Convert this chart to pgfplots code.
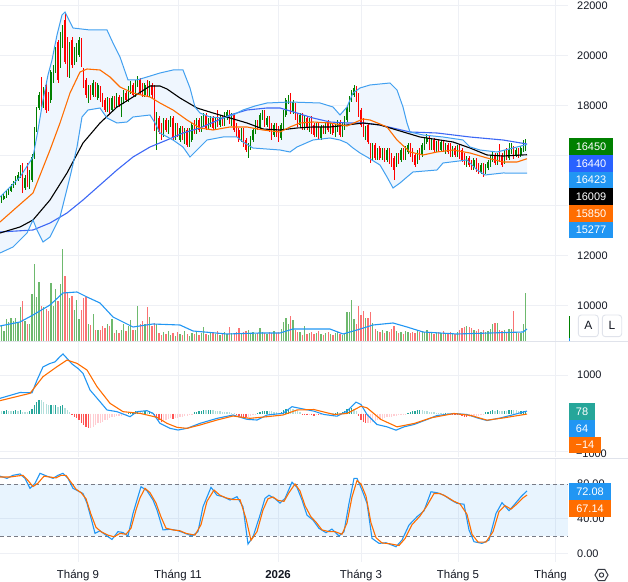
\documentclass[border=0pt]{standalone}
\usepackage{pgfplots}
\pgfplotsset{compat=1.18}
\usepackage{pgfplotstable}
\usepackage{fontspec}
\setmainfont{Liberation Sans}

\definecolor{cgreen}{RGB}{0,128,0}
\definecolor{cred}{RGB}{255,0,0}
\definecolor{vgreen}{RGB}{110,185,110}
\definecolor{vred}{RGB}{250,115,115}
\definecolor{bbline}{RGB}{66,160,240}
\definecolor{bbfill}{RGB}{239,246,254}
\definecolor{maorange}{RGB}{255,109,0}
\definecolor{mablue}{RGB}{61,104,245}
\definecolor{tvblue}{RGB}{33,150,243}
\definecolor{boxblue}{RGB}{41,98,255}
\definecolor{teal1}{RGB}{38,166,154}
\definecolor{teal2}{RGB}{178,223,219}
\definecolor{red1}{RGB}{255,82,82}
\definecolor{red2}{RGB}{255,205,210}
\definecolor{gridc}{RGB}{238,240,245}
\definecolor{sepc}{RGB}{224,227,235}
\definecolor{dashc}{RGB}{120,123,134}
\definecolor{txt}{RGB}{19,23,34}

% i open high low close volume macdhist histcolour
\pgfplotstableread{
i o h l c v m k
0 14120 14360 14080 14280 15 60 2
1 14240 14440 14200 14360 10 70 1
2 14320 14560 14280 14480 22 80 1
3 14440 14680 14400 14600 19 70 2
4 14560 14840 14520 14760 23 60 2
5 14720 14960 14680 14880 20 75 1
6 14840 15160 14800 15080 23 90 1
7 15000 15320 14960 15200 19 70 2
8 15120 15600 15080 15520 34 90 1
9 15600 15680 14480 14600 40 50 2
10 14680 15200 14600 15080 20 40 2
11 15480 15680 14720 14800 17 30 2
12 14760 15400 14640 15320 17 60 1
13 15000 16040 14920 15920 47 130 1
14 15920 17120 15840 17000 77 220 1
15 17000 17920 16920 17800 44 300 1
16 17880 18520 17800 18400 59 350 1
17 19000 19120 17920 18000 35 340 2
18 18000 18720 17880 18600 34 300 2
19 18800 18880 17680 17800 32 260 2
20 18400 18520 17760 17880 30 220 2
21 18200 19400 18080 19320 58 230 1
22 19000 19600 18880 19480 35 220 2
23 19400 20320 19280 20200 52 230 1
24 20520 20600 18880 19000 40 170 2
25 19600 20920 19480 20800 57 200 1
26 20400 21200 20280 21080 92 220 1
27 21400 21680 19640 19720 65 150 2
28 20200 20720 19120 19200 48 90 2
29 19200 20520 19080 20400 43 40 2
30 20600 20720 19480 19600 45 -45 3
31 19720 20320 19600 20200 31 -90 3
32 19800 20480 19720 20400 41 -130 3
33 20000 20720 19920 20600 22 -175 3
34 20600 20680 19520 19600 31 -245 3
35 19400 19480 18680 18800 43 -305 3
36 19000 19080 18280 18400 44 -365 3
37 18200 18800 18080 18680 17 -390 3
38 18680 18800 18200 18320 16 -370 4
39 18400 19000 18320 18880 27 -340 4
40 18800 18920 18320 18400 11 -310 4
41 18280 18880 18200 18800 11 -260 4
42 18680 18760 18120 18200 11 -240 4
43 18400 18480 17920 18000 15 -215 4
44 18200 18280 17720 17800 13 -175 4
45 17800 18320 17720 18200 17 -160 4
46 18200 18280 17640 17720 15 -130 4
47 17800 18360 17720 18280 22 -100 4
48 18280 18360 17880 17960 8 -90 4
49 18000 18480 17920 18400 11 -70 4
50 18320 18400 17920 18000 8 -65 4
51 17640 18320 17520 18200 11 -55 4
52 18120 18600 18040 18520 17 -45 4
53 18480 18560 18120 18200 10 -40 4
54 18200 18760 18120 18680 15 20 1
55 18520 18960 18440 18880 21 40 1
56 18800 18880 18320 18400 11 50 1
57 18400 19000 18320 18920 11 60 1
58 18800 19160 18720 19080 35 70 1
59 19000 19080 18440 18520 17 65 2
60 18800 18880 18320 18400 20 55 2
61 18400 18880 18320 18800 17 60 1
62 18920 19000 18320 18400 34 50 2
63 18400 18960 18320 18880 24 55 1
64 18800 18880 18280 18400 15 40 2
65 18680 18800 16960 17080 18 -45 3
66 16400 17720 16200 17600 17 -105 3
67 17480 17560 16840 16920 8 -175 3
68 17200 17280 16600 16680 6 -215 3
69 16800 17480 16720 17400 9 -190 4
70 17400 17480 16920 17000 7 -170 4
71 16920 17400 16840 17320 10 -150 4
72 17200 17560 17120 17480 6 -130 4
73 17480 17560 16600 16680 8 -135 3
74 16680 17280 16600 17200 5 -120 4
75 17200 17280 16720 16800 9 -110 4
76 16600 17160 16520 17080 7 -95 4
77 17080 17160 16600 16680 6 -85 4
78 16520 17080 16440 17000 10 -70 4
79 17000 17080 16320 16400 7 -60 4
80 16400 17080 16320 17000 5 -40 4
81 16600 17280 16520 17200 8 -20 4
82 17320 17400 16840 16920 7 30 1
83 16920 17480 16840 17400 9 50 1
84 17400 17480 16920 17000 6 60 1
85 17000 17560 16920 17480 8 75 1
86 17200 17680 17120 17600 14 85 1
87 17600 17680 17000 17080 7 80 2
88 17080 17480 17000 17400 6 85 1
89 17200 17560 17120 17480 8 90 1
90 17480 17560 17000 17080 9 80 2
91 17080 17480 17000 17400 7 75 2
92 17720 17800 17120 17200 10 70 2
93 17200 17600 17120 17520 6 60 2
94 17520 17600 17160 17240 8 50 2
95 17240 17720 17160 17640 9 45 2
96 17480 17800 17400 17720 7 40 2
97 17720 17800 17240 17320 14 30 2
98 17240 17680 17160 17600 8 20 2
99 17600 17680 16920 17000 7 10 2
100 17200 17280 16720 16800 9 -45 3
101 17000 17080 16520 16600 13 -70 3
102 16600 17080 16520 17000 8 -85 3
103 17000 17080 16320 16400 9 -90 3
104 16600 16680 16120 16200 10 -95 3
105 16000 16480 15880 16400 11 -80 4
106 16280 16760 16200 16680 8 -60 4
107 16600 17080 16520 17000 9 -40 4
108 16920 17400 16840 17320 7 -20 4
109 17320 17400 17000 17080 8 20 1
110 17080 17680 17000 17600 13 40 1
111 17480 17800 17400 17720 9 55 1
112 17720 17800 17120 17200 8 65 1
113 17200 17560 17120 17480 7 70 1
114 17480 17560 16920 17000 9 65 2
115 17200 17280 16600 16680 8 55 2
116 16800 17280 16720 17200 10 45 2
117 17200 17280 16720 16800 8 35 2
118 17080 17160 16520 16600 9 20 2
119 16680 17280 16600 17200 12 40 1
120 17080 17800 17000 17720 19 80 1
121 17600 18280 17520 18200 23 110 1
122 18120 18400 18040 18360 17 130 1
123 18360 18480 17640 17720 25 120 2
124 17720 18200 17640 18120 21 115 2
125 18000 18080 17400 17480 11 90 2
126 17600 17680 17120 17200 9 60 2
127 17200 17680 17120 17600 9 40 2
128 17600 17680 17000 17080 6 -30 3
129 17080 17560 17000 17480 15 -40 3
130 17480 17560 17000 17080 7 -45 3
131 17000 17480 16920 17400 8 -40 4
132 17480 17560 16840 16920 9 -50 3
133 17200 17280 16720 16800 7 -55 3
134 16800 17280 16720 17200 8 -45 4
135 17200 17280 16600 16680 10 -50 3
136 16680 17200 16600 17120 7 -40 4
137 17120 17200 16840 16920 6 -35 4
138 16920 17320 16840 17240 8 -20 4
139 17320 17400 16920 17000 9 -15 4
140 16920 17280 16840 17200 7 10 1
141 17200 17280 16800 16880 6 5 2
142 16800 17240 16720 17160 8 15 1
143 17000 17400 16920 17320 9 30 1
144 17320 17400 16720 16800 7 25 2
145 16800 17280 16720 17200 6 40 1
146 17080 17560 17000 17480 8 70 1
147 17400 17960 17320 17880 29 110 1
148 17800 18360 17720 18280 29 130 1
149 18200 18600 18120 18520 41 140 1
150 18400 18800 18320 18680 22 110 2
151 18680 18760 18120 18200 17 70 2
152 18400 18480 17520 17600 35 -60 3
153 17800 17880 17120 17200 26 -175 3
154 17400 17480 16720 16800 30 -230 3
155 16680 17160 16600 17080 23 -260 3
156 17200 17280 16440 16520 23 -250 4
157 16400 16480 15680 15800 29 -240 4
158 15880 16480 15800 16400 18 -220 4
159 16400 16480 15800 15880 12 -200 4
160 15880 16280 15800 16200 10 -180 4
161 16280 16360 15800 15880 9 -160 4
162 15880 16280 15800 16200 11 -140 4
163 16200 16280 15720 15800 8 -120 4
164 15800 16280 15720 16200 10 -100 4
165 16200 16280 15640 15720 9 -90 4
166 16000 16080 15520 15600 12 -80 4
167 15880 15960 15000 15400 15 -70 4
168 15600 16080 15520 16000 10 -60 4
169 16000 16080 15640 15720 8 -50 4
170 15800 16280 15720 16200 9 -40 4
171 16200 16280 15800 15880 7 -30 4
172 15880 16360 15800 16280 10 -20 4
173 16120 16480 16040 16400 9 20 1
174 16400 16480 15920 16000 8 40 1
175 16200 16280 15720 15800 9 60 1
176 16000 16080 15520 15600 8 70 1
177 15720 16200 15640 16120 10 80 1
178 16200 16280 15800 15880 9 85 1
179 16000 16480 15920 16400 10 80 2
180 16280 16680 16200 16600 9 75 2
181 16520 16840 16440 16680 11 60 2
182 16680 16760 16200 16280 8 50 2
183 16280 16680 16200 16600 9 40 2
184 16600 16680 16120 16200 7 30 2
185 16200 16560 16120 16480 8 25 2
186 16520 16600 16120 16200 9 20 2
187 16200 16600 16120 16520 8 15 2
188 16520 16600 16120 16200 10 10 2
189 16120 16480 16040 16400 8 10 1
190 16400 16480 16040 16120 7 5 2
191 16400 16480 15920 16000 9 -10 3
192 16000 16360 15920 16280 8 -15 3
193 16280 16360 15920 16000 7 -25 3
194 16000 16400 15920 16320 9 -30 3
195 16320 16400 15840 15920 11 -45 3
196 16200 16280 15720 15800 13 -70 3
197 16000 16080 15600 15680 14 -90 3
198 15600 15960 15520 15880 15 -100 3
199 15880 15960 15520 15600 14 -95 4
200 15720 15800 15400 15480 13 -90 4
201 15480 15880 15400 15800 11 -80 4
202 15800 15880 15320 15400 10 -70 4
203 15600 15680 15240 15320 12 -60 4
204 15320 15680 15240 15600 9 -50 4
205 15600 15680 15120 15200 11 -40 4
206 15320 15640 15240 15560 9 30 1
207 15480 15800 15400 15720 10 50 1
208 15600 16000 15520 15920 12 70 1
209 15800 16160 15720 16080 17 80 1
210 16000 16080 15600 15680 18 75 2
211 15680 16080 15600 16000 18 80 1
212 16200 16440 15720 15800 11 75 2
213 16000 16080 15520 15600 10 70 2
214 15720 16200 15640 16120 11 75 1
215 16200 16280 15800 15880 9 70 2
216 15880 16480 15800 16200 12 80 1
217 16120 16480 16040 16400 12 95 1
218 16280 16360 15840 15920 30 85 2
219 16000 16280 15920 16200 9 80 2
220 16200 16280 15880 15960 8 70 2
221 16000 16360 15920 16280 8 72 1
222 16200 16600 16120 16400 17 75 1
223 16240 16640 16160 16450 48 78 1
}\candles

% Bollinger upper band
\pgfplotstableread{
x y
0 14320
20 15120
33 15920
38 17000
43 18200
48 19200
52 19800
57 20800
62 21600
65 21720
73 21080
90 21000
107 21000
113 20480
120 19920
128 19000
137 19000
147 19120
160 19280
173 19400
183 19400
190 18680
195 17920
200 17680
210 17520
223 17480
233 17600
243 17800
255 17960
267 18080
290 18120
320 18080
333 17920
340 17600
347 17920
353 18480
360 18680
370 18800
390 18880
397 18600
403 17920
407 17280
410 16920
423 16800
443 16720
463 16600
470 16320
480 16200
497 16120
513 16280
527 16423
}\tabU

% Bollinger basis
\pgfplotstableread{
x y
0 13320
17 13920
33 14480
50 16200
60 17280
70 18480
80 19320
87 19440
100 19400
110 19120
120 18720
133 18480
150 18320
160 18080
173 17800
187 17400
200 17080
213 17000
230 17120
247 17120
263 17000
280 16920
290 17120
300 17280
313 17320
330 17280
347 17160
363 17440
370 17400
380 17240
387 17120
397 16600
410 16120
423 16000
437 16120
453 16200
470 16080
487 15880
503 15720
517 15720
527 15850
}\tabM

% Bollinger lower band
\pgfplotstableread{
x y
0 12080
13 12320
27 12880
33 13400
37 13000
43 12520
50 12720
60 13520
70 15120
77 16320
82 17520
88 17800
100 17880
107 17480
117 17280
127 17320
133 17520
150 17600
155 17280
160 16880
173 16600
183 16320
190 15920
197 16200
207 16600
223 16720
237 16720
243 16520
253 16280
280 16200
290 16120
297 16320
313 16600
330 16680
340 16600
347 16480
353 16280
360 16080
367 15920
380 15600
387 15120
393 14680
400 14880
407 15120
413 15320
437 15400
443 15680
467 15800
477 15400
485 15200
503 15280
527 15277
}\tabL

% band outline: upper band forward, lower band backward
\pgfplotstableread{
x y
0 14320
20 15120
33 15920
38 17000
43 18200
48 19200
52 19800
57 20800
62 21600
65 21720
73 21080
90 21000
107 21000
113 20480
120 19920
128 19000
137 19000
147 19120
160 19280
173 19400
183 19400
190 18680
195 17920
200 17680
210 17520
223 17480
233 17600
243 17800
255 17960
267 18080
290 18120
320 18080
333 17920
340 17600
347 17920
353 18480
360 18680
370 18800
390 18880
397 18600
403 17920
407 17280
410 16920
423 16800
443 16720
463 16600
470 16320
480 16200
497 16120
513 16280
527 16423
527 15277
503 15280
485 15200
477 15400
467 15800
443 15680
437 15400
413 15320
407 15120
400 14880
393 14680
387 15120
380 15600
367 15920
360 16080
353 16280
347 16480
340 16600
330 16680
313 16600
297 16320
290 16120
280 16200
253 16280
243 16520
237 16720
223 16720
207 16600
197 16200
190 15920
183 16320
173 16600
160 16880
155 17280
150 17600
133 17520
127 17320
117 17280
107 17480
100 17880
88 17800
82 17520
77 16320
70 15120
60 13520
50 12720
43 12520
37 13000
33 13400
27 12880
13 12320
0 12080
}\tabBand

\pgfplotstableread{
x y
0 12920
33 13000
50 13280
67 13680
83 14200
100 14800
117 15400
133 15920
150 16320
167 16600
183 16880
200 17080
230 17600
247 17800
267 17880
280 17880
297 17680
313 17480
330 17320
347 17280
363 17280
380 17200
410 16920
437 16880
470 16720
503 16600
527 16440
}\tabMAb

\pgfplotstableread{
x y
0 12880
20 13120
33 13400
50 14200
67 15280
83 16480
100 17280
117 17920
133 18320
150 18760
160 18760
167 18640
180 18280
197 17880
213 17680
230 17480
247 17280
263 17040
280 17000
297 17080
313 17120
330 17120
347 17200
363 17280
380 17200
420 16720
453 16520
470 16280
487 16000
503 15960
527 16009
}\tabMAk

\pgfplotstableread{
x y
0 15
20 19
33 26
50 36
63 48
77 49
87 44
100 38
113 24
133 14
153 17
180 16
193 10
227 7
260 8
280 8
293 12
330 12
343 7
357 11
373 16
393 18
407 14
423 9
457 7
490 8
523 9
527 12
}\tabVMA

\pgfplotstableread{
x y
0 396
20 548
32 540
37 870
43 1217
50 1305
55 1348
60 1483
63 1553
67 1440
72 1292
78 1175
83 1048
90 614
100 309
107 92
117 48
130 -83
137 48
147 74
153 4
160 -257
170 -387
178 -431
187 -387
200 -257
217 -127
233 -39
247 -152
257 -170
267 -39
283 4
292 178
300 135
314 61
324 -26
337 -70
347 61
356 296
361 235
367 -26
377 -287
387 -348
396 -435
404 -348
414 -287
427 -157
437 -52
454 0
467 -26
477 -113
487 -183
501 -113
514 -26
527 64
}\tabMACD

\pgfplotstableread{
x y
0 335
30 526
43 961
57 1222
67 1396
77 1309
87 1135
97 700
110 266
123 48
140 4
157 -100
167 -257
177 -361
187 -387
200 -300
217 -170
233 -65
250 -126
267 -83
283 -39
297 92
314 104
334 -26
347 0
361 191
367 148
381 -157
397 -348
414 -261
431 -113
454 0
471 -52
487 -174
504 -113
527 -14
}\tabSIG

\pgfplotstableread{
x y
0 89
7 86.5
13 90
20 91.5
25 86.5
30 75
35 80.7
40 92.3
47 89
53 86.5
58 90
63 92.3
68 86.5
73 75
78 72
83 69
87 57.7
92 36.5
95 23
100 26
107 20
112 16
118 25
123 24
128 20
133 46
137 61.5
141 76.8
147 72.2
153 61.5
157 50
163 27
170 27.7
177 26.5
183 24
192 20
198 25
203 53.7
211 76.1
217 67
223 65.3
230 61.5
237 65.3
243 53.7
248 10.7
253 19
260 44
265 63.4
269 67
275 63
280 58
285 63.4
292 82
297 76
302 61.5
307 44
313 38.4
319 28.8
326 23.8
332 28
339 20
344 24.9
349 57.7
354 86.5
357 86.5
362 73
367 57.7
372 17.3
379 11.5
386 12.2
396 7.6
402 15.3
409 32.6
417 42.2
424 49
431 71
437 69.9
444 67
451 61.5
457 57.7
464 56.6
469 26.9
474 13.4
482 11.5
489 15.3
496 46
502 58.4
509 49.2
514 55.7
521 65.3
527 72.08
}\tabK

\pgfplotstableread{
x y
0 88
10 88
16 89
23 90
28 84
33 77
38 81
44 89
50 88
56 87
61 90
66 90
71 82
76 74
81 70
86 63
91 45
96 30
101 25
108 21
114 19
120 23
126 22
131 29
136 50
140 64
145 75
150 70
156 58
161 42
166 29
173 27
180 26
186 23
195 21
201 33
207 60
214 73
220 67
226 64
233 62
240 62
246 40
251 15
257 25
263 50
268 63
273 65
278 61
284 60
289 70
295 80
300 72
305 55
311 42
316 36
322 27
329 25
335 25
342 22
347 35
352 65
357 84
361 80
366 66
371 35
376 18
382 12
390 11
399 9
405 17
412 33
420 43
427 55
434 69
440 69
447 65
454 60
460 57
467 45
472 22
478 13
486 13
493 25
499 48
505 55
511 51
517 57
523 64
527 67.14
}\tabD

\pgfplotsset{
  panel/.style={scale only axis, width=568bp, xmin=0, xmax=568,
    anchor=south west, axis line style={draw=none}, major tick length=0pt,
    xtick={78,178,278,361,458,555}, xticklabels={}, yticklabels={},
    grid=major, major grid style={draw=gridc, line width=0.8bp}},
  cbar/.style 2 args={draw=none, mark=none, forget plot,
    error bars/.cd, y dir=plus, y explicit, error mark=none,
    error bar style={line width=#2, draw=#1}},
}

\begin{document}
\begin{tikzpicture}
\path (0,0) rectangle (628bp,582bp);
\begin{pgfinterruptboundingbox}

% ---------- price panel ----------
\begin{axis}[panel, at={(0,241bp)}, height=341bp,
  ymin=8560, ymax=22200, ytick={10000,12000,14000,16000,18000,20000,22000}]
\addplot[fill=bbfill, draw=none, mark=none, forget plot] table[x=x,y=y] {\tabBand};
% wicks
\addplot[cbar={cgreen}{0.8bp}]
  table[x expr=1.5+2.35*\thisrow{i}, y=l,
        y error plus expr={\thisrow{c}>=\thisrow{o} ? \thisrow{h}-\thisrow{l} : 0}] {\candles};
\addplot[cbar={cred}{0.8bp}]
  table[x expr=1.5+2.35*\thisrow{i}, y=l,
        y error plus expr={\thisrow{c}<\thisrow{o} ? \thisrow{h}-\thisrow{l} : 0}] {\candles};
% bodies
\addplot[cbar={cgreen}{1.35bp}]
  table[x expr=1.5+2.35*\thisrow{i}, y=o,
        y error plus expr={\thisrow{c}>=\thisrow{o} ? \thisrow{c}-\thisrow{o} : 0}] {\candles};
\addplot[cbar={cred}{1.35bp}]
  table[x expr=1.5+2.35*\thisrow{i}, y=c,
        y error plus expr={\thisrow{c}<\thisrow{o} ? \thisrow{o}-\thisrow{c} : 0}] {\candles};
% indicator lines
\addplot[mablue, line width=1.1bp, mark=none] table[x=x,y=y] {\tabMAb};
\addplot[black, line width=1.1bp, mark=none] table[x=x,y=y] {\tabMAk};
\addplot[bbline, line width=1bp, mark=none] table[x=x,y=y] {\tabU};
\addplot[bbline, line width=1bp, mark=none] table[x=x,y=y] {\tabL};
\addplot[maorange, line width=1.1bp, mark=none] table[x=x,y=y] {\tabM};
\end{axis}

% ---------- volume overlay ----------
\begin{axis}[scale only axis, width=568bp, xmin=0, xmax=568, anchor=south west,
  at={(0,241bp)}, height=341bp, ymin=0, ymax=341, hide axis]
\addplot[ycomb, mark=none, draw=vgreen, line width=1.3bp]
  table[x expr=1.5+2.35*\thisrow{i}, y expr={\thisrow{c}>=\thisrow{o} ? \thisrow{v} : 0}] {\candles};
\addplot[ycomb, mark=none, draw=vred, line width=1.3bp]
  table[x expr=1.5+2.35*\thisrow{i}, y expr={\thisrow{c}<\thisrow{o} ? \thisrow{v} : 0}] {\candles};
\addplot[tvblue, line width=1.1bp, mark=none] table[x=x,y=y] {\tabVMA};
\end{axis}

% ---------- MACD panel ----------
\begin{axis}[panel, at={(0,125bp)}, height=115bp,
  ymin=-1135, ymax=1866, ytick={-1000,1000}]
\addplot[ycomb, mark=none, draw=teal1, line width=1.3bp]
  table[x expr=1.5+2.35*\thisrow{i}, y expr={\thisrow{k}==1 ? \thisrow{m} : 0}] {\candles};
\addplot[ycomb, mark=none, draw=teal2, line width=1.3bp]
  table[x expr=1.5+2.35*\thisrow{i}, y expr={\thisrow{k}==2 ? \thisrow{m} : 0}] {\candles};
\addplot[ycomb, mark=none, draw=red1, line width=1.3bp]
  table[x expr=1.5+2.35*\thisrow{i}, y expr={\thisrow{k}==3 ? \thisrow{m} : 0}] {\candles};
\addplot[ycomb, mark=none, draw=red2, line width=1.3bp]
  table[x expr=1.5+2.35*\thisrow{i}, y expr={\thisrow{k}==4 ? \thisrow{m} : 0}] {\candles};
\addplot[tvblue, line width=1.1bp, mark=none] table[x=x,y=y] {\tabMACD};
\addplot[maorange, line width=1.1bp, mark=none] table[x=x,y=y] {\tabSIG};
\end{axis}

% ---------- Stochastic panel ----------
\begin{axis}[panel, at={(0,20bp)}, height=103bp,
  ymin=-10, ymax=108.8, ytick={0,40}]
\fill[tvblue, fill opacity=0.1] (axis cs:0,20) rectangle (axis cs:568,80);
\draw[dashc, line width=0.9bp, dash pattern=on 4bp off 3bp] (axis cs:0,80) -- (axis cs:568,80);
\draw[dashc, line width=0.9bp, dash pattern=on 4bp off 3bp] (axis cs:0,20) -- (axis cs:568,20);
\addplot[tvblue, line width=1.1bp, mark=none] table[x=x,y=y] {\tabK};
\addplot[maorange, line width=1.1bp, mark=none] table[x=x,y=y] {\tabD};
\end{axis}

% ---------- separators ----------
\draw[sepc, line width=1bp] (0,240.5bp) -- (628bp,240.5bp);
\draw[sepc, line width=1bp] (0,123.5bp) -- (628bp,123.5bp);

% ---------- right scale ----------
\begin{scope}[every node/.style={font=\fontsize{11}{13}\selectfont, text=txt, inner sep=0pt}]
\node[anchor=west] at (577bp,576bp) {22000};
\node[anchor=west] at (577bp,526bp) {20000};
\node[anchor=west] at (577bp,476bp) {18000};
\node[anchor=west] at (577bp,326bp) {12000};
\node[anchor=west] at (577bp,276bp) {10000};
\node[anchor=west] at (577bp,207bp) {1000};
\node[anchor=east] at (607bp,128.5bp) {−1000};
\node[anchor=west] at (577bp,98.1bp) {80.00};
\node[anchor=west] at (577bp,63.4bp) {40.00};
\node[anchor=west] at (577bp,28.7bp) {0.00};

\fill[cgreen] (569bp,427bp) rectangle (613bp,443.6bp);
\node[text=white] at (591bp,435.3bp) {16450};
\fill[boxblue] (569bp,410.3bp) rectangle (613bp,427bp);
\node[text=white] at (591bp,418.7bp) {16440};
\fill[tvblue] (569bp,393.7bp) rectangle (613bp,410.3bp);
\node[text=white] at (591bp,402bp) {16423};
\fill[black] (569bp,377bp) rectangle (613bp,393.7bp);
\node[text=white] at (591bp,385.3bp) {16009};
\fill[maorange] (569bp,360.3bp) rectangle (613bp,377bp);
\node[text=white] at (591bp,368.7bp) {15850};
\fill[tvblue] (569bp,343.7bp) rectangle (613bp,360.3bp);
\node[text=white] at (591bp,352bp) {15277};

\fill[teal1] (569bp,162bp) rectangle (595bp,178.7bp);
\node[text=white] at (582bp,170.3bp) {78};
\fill[tvblue] (569bp,145.3bp) rectangle (595bp,162bp);
\node[text=white] at (582bp,153.7bp) {64};
\fill[maorange] (569bp,128.7bp) rectangle (601bp,145.3bp);
\node[text=white] at (585bp,137bp) {−14};

\fill[tvblue] (569bp,82bp) rectangle (611bp,98.7bp);
\node[text=white] at (590bp,90.3bp) {72.08};
\fill[maorange] (569bp,65.3bp) rectangle (611bp,82bp);
\node[text=white] at (590bp,73.7bp) {67.14};

% volume marker and buttons
\draw[cgreen, line width=1.2bp] (569.5bp,244bp) -- (569.5bp,266bp);
\draw[tvblue, line width=1.2bp] (569.5bp,241bp) -- (569.5bp,244bp);
\draw[sepc, line width=0.9bp, rounded corners=3bp, fill=white] (578.3bp,245.3bp) rectangle (598.3bp,267bp);
\draw[sepc, line width=0.9bp, rounded corners=3bp, fill=white] (602.3bp,245.3bp) rectangle (621.7bp,267bp);
\node[font=\fontsize{12}{14}\selectfont] at (588.3bp,256.2bp) {A};
\node[font=\fontsize{12}{14}\selectfont] at (612bp,256.2bp) {L};

% time axis
\node[font=\fontsize{11.5}{13}\selectfont] at (78bp,7bp) {Tháng 9};
\node[font=\fontsize{11.5}{13}\selectfont] at (178bp,7bp) {Tháng 11};
\node[font=\fontsize{11.5}{13}\selectfont\bfseries] at (278bp,7bp) {2026};
\node[font=\fontsize{11.5}{13}\selectfont] at (361bp,7bp) {Tháng 3};
\node[font=\fontsize{11.5}{13}\selectfont] at (458bp,7bp) {Tháng 5};
\node[font=\fontsize{11.5}{13}\selectfont, anchor=west] at (534bp,7bp) {Tháng};
\end{scope}

% settings icon
\draw[txt!85, line width=1bp] (601.5bp,7bp) +(0:6.5bp) -- +(60:6.5bp) -- +(120:6.5bp) -- +(180:6.5bp) -- +(240:6.5bp) -- +(300:6.5bp) -- cycle;
\draw[txt!85, line width=1bp] (601.5bp,7bp) circle (2.2bp);
\end{pgfinterruptboundingbox}
\end{tikzpicture}
\end{document}
